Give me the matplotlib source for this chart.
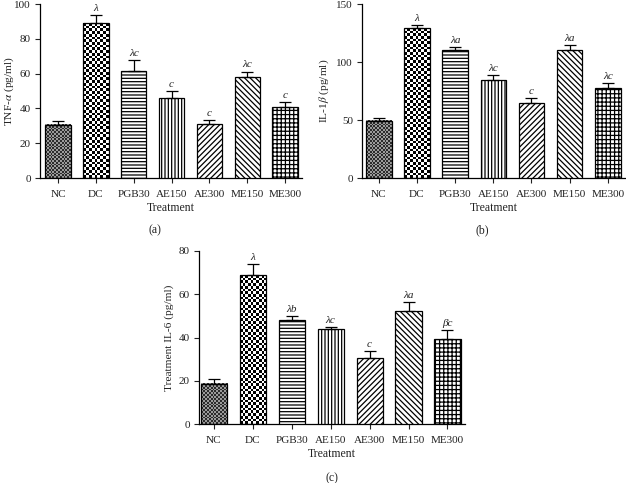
import numpy as np
import matplotlib
matplotlib.use("Agg")
import matplotlib.pyplot as plt
from matplotlib.colors import ListedColormap

plt.rcParams['font.family'] = ['Liberation Serif', 'DejaVu Serif']
plt.rcParams['mathtext.fontset'] = 'stix'
plt.rcParams['hatch.linewidth'] = 0.9

categories = ["NC", "DC", "PGB30", "AE150", "AE300", "ME150", "ME300"]

tnf_mean = [30.7, 89.0, 61.6, 45.9, 31.1, 57.8, 40.9]
tnf_err = [2.1, 4.9, 6.0, 4.2, 2.1, 3.4, 2.5]
tnf_sig = ["", "λ", "λc", "c", "c", "λc", "c"]

il1_mean = [49.3, 129.2, 110.2, 84.5, 64.6, 110.2, 77.3]
il1_err = [2.0, 2.9, 2.8, 4.3, 4.0, 4.6, 4.6]
il1_sig = ["", "λ", "λa", "λc", "c", "λa", "λc"]

il6_mean = [18.5, 68.9, 47.9, 43.8, 30.4, 52.4, 39.4]
il6_err = [2.5, 4.9, 2.2, 1.2, 3.2, 3.8, 3.9]
il6_sig = ["", "λ", "λb", "λc", "c", "λa", "βc"]

W, H = 626, 483
fig = plt.figure(figsize=(W / 100, H / 100), dpi=100)

def pos(l, t, r, b):
    return [l / W, 1 - b / H, (r - l) / W, (b - t) / H]

hatches = [None, None, "-----", "|||||", "//////", "\\\\\\\\\\\\", "++++"]
checker = {0: (1.8, ['#2b2b2b', '#9a9a9a']), 1: (2.7, ['#000000', '#ffffff'])}

def panel(rect, means, errs, sigs, ylim, yticks, ylabel, xlim_left, ylab_x):
    ax = fig.add_axes(rect)
    x = np.arange(len(categories))
    w = 0.67
    ax.set_xlim(xlim_left, 6.45)
    ax.set_ylim(*ylim)
    p0 = ax.transData.transform((0, 0))
    p1 = ax.transData.transform((1, 1))
    pxx, pxy = p1[0] - p0[0], p1[1] - p0[1]
    faces = ['none' if i in checker else 'white' for i in range(len(x))]
    bars = ax.bar(x, means, width=w, color=faces, edgecolor='black',
                  linewidth=0.9, zorder=3)
    for i, b in enumerate(bars):
        if hatches[i]:
            b.set_hatch(hatches[i])
        if i in checker:
            cell, cols = checker[i]
            nx = max(1, int(round(w * pxx / cell)))
            ny = max(1, int(round(means[i] * pxy / cell)))
            arr = (np.add.outer(np.arange(ny), np.arange(nx)) % 2)
            ax.imshow(arr, extent=(x[i] - w / 2, x[i] + w / 2, 0, means[i]),
                      cmap=ListedColormap(cols), interpolation='nearest',
                      aspect='auto', zorder=2, origin='lower')
    ax.set_xlim(xlim_left, 6.45)
    ax.set_ylim(*ylim)
    ax.errorbar(x, means, yerr=[np.zeros(len(x)), errs], fmt='none',
                ecolor='black', elinewidth=0.9, capsize=4.3, capthick=0.9,
                zorder=4)
    for i in range(len(x)):
        if sigs[i]:
            ax.annotate(sigs[i], (x[i], means[i] + errs[i]), xytext=(0, 1.5),
                        textcoords='offset points', ha='center', va='bottom',
                        fontsize=8, fontstyle='italic', color='#222222')
    ax.set_xticks(x)
    ax.set_xticklabels(categories)
    ax.set_yticks(yticks)
    for s in ['top', 'right']:
        ax.spines[s].set_visible(False)
    for s in ['left', 'bottom']:
        ax.spines[s].set_linewidth(0.9)
    ax.tick_params(axis='both', direction='out', length=3.5, width=0.8,
                   labelsize=8, colors='#222222')
    ax.tick_params(axis='x', pad=5)
    ax.tick_params(axis='y', pad=3)
    ax.set_xlabel("Treatment", fontsize=8.5, color='#222222', labelpad=2)
    ax.set_ylabel(ylabel, fontsize=8.2, color='#222222')
    ax.yaxis.set_label_coords(ylab_x, 0.5)
    return ax

panel(pos(40, 4, 302, 178), tnf_mean, tnf_err, tnf_sig, (0, 100),
      [0, 20, 40, 60, 80, 100], "TNF-$\\alpha$ (pg/ml)", -0.48, -0.09)
panel(pos(362, 4, 625, 178), il1_mean, il1_err, il1_sig, (0, 150),
      [0, 50, 100, 150], "IL-1$\\beta$ (pg/ml)", -0.44, -0.118)
panel(pos(199, 251, 465, 424), il6_mean, il6_err, il6_sig, (0, 80),
      [0, 20, 40, 60, 80], "Treatment IL-6 (pg/ml)", -0.38, -0.095)

fig.text(155 / W, 1 - 230 / H, "(a)", ha='center', va='center', fontsize=8.5, color='#222222')
fig.text(482 / W, 1 - 230 / H, "(b)", ha='center', va='center', fontsize=8.5, color='#222222')
fig.text(332 / W, 1 - 478 / H, "(c)", ha='center', va='center', fontsize=8.5, color='#222222')

fig.savefig("out.png", dpi=100)
